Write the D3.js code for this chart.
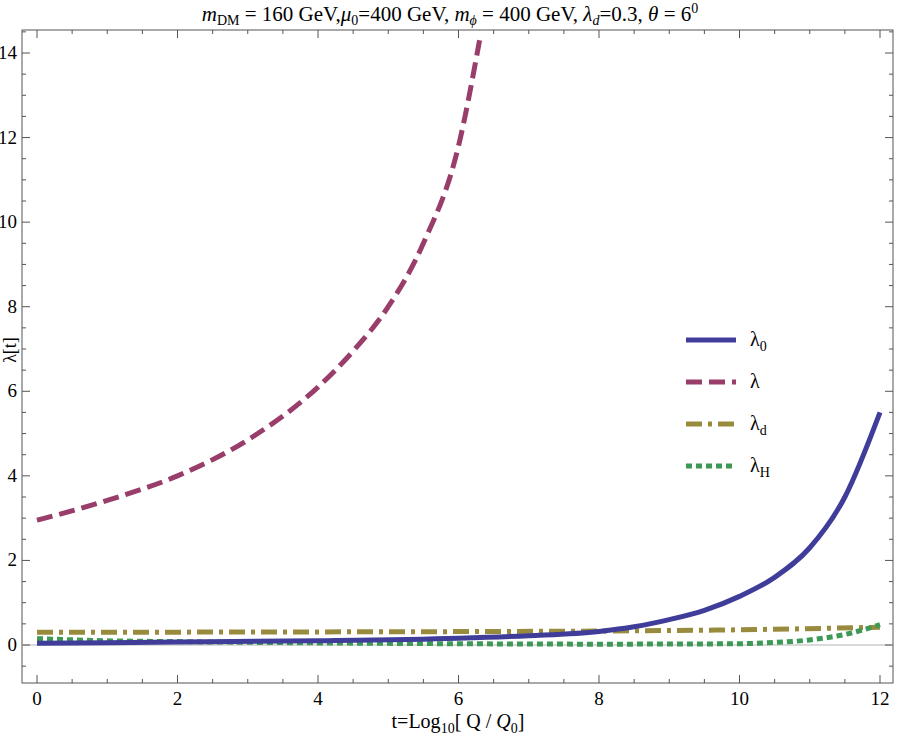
<!DOCTYPE html>
<html>
<head>
<meta charset="utf-8">
<script src="https://cdn.jsdelivr.net/npm/d3@7"></script>
<style>
    body { margin: 0; background: #fff; }
    svg text { font-family: "Liberation Serif", "DejaVu Serif", serif; }
</style>
</head>
<body>
<script>
// values
var tVals    = [0, 1, 2, 3, 4, 4.5, 5, 5.5, 6, 6.3];
var lamVals  = [2.95, 3.42, 4.0, 4.85, 6.1, 6.95, 8.0, 9.5, 11.8, 14.3];

var t0Vals   = [0, 2, 4, 6, 7, 8, 8.5, 9, 9.5, 10, 10.5, 11, 11.5, 12];
var lam0Vals = [0.04, 0.07, 0.1, 0.16, 0.22, 0.32, 0.43, 0.6, 0.82, 1.15, 1.6, 2.3, 3.5, 5.5];

var tdVals   = [0, 4, 8, 10, 12];
var lamdVals = [0.3, 0.31, 0.33, 0.36, 0.42];

var tHVals   = [0, 1, 2, 4, 6, 8, 10, 10.5, 11, 11.5, 12];
var lamHVals = [0.15, 0.1, 0.08, 0.05, 0.03, 0.02, 0.03, 0.06, 0.12, 0.25, 0.48];

var yTicks = [0, 2, 4, 6, 8, 10, 12, 14];
var xTicks = [0, 2, 4, 6, 8, 10, 12];

var legendNames = ["0", "", "d", "H"];
var colors = ["#3f3d99", "#993d6b", "#998b3d", "#3d9955"];
var dashes = [null, "16,7", "16,6,4,6", "6,4"];

var W = 899, H = 742;
var frame = {left: 22, right: 893, top: 30, bottom: 683};
var serif = "Liberation Serif, DejaVu Serif, serif";

var x = d3.scaleLinear().domain([0, 12]).range([37, 880]);
var y = d3.scaleLinear().domain([0, 14]).range([645, 53]);

var svg = d3.select("body").append("svg")
    .attr("width", W).attr("height", H)
    .attr("font-family", serif);

// frame
svg.append("rect")
    .attr("x", frame.left).attr("y", frame.top)
    .attr("width", frame.right - frame.left)
    .attr("height", frame.bottom - frame.top)
    .attr("fill", "none").attr("stroke", "#555").attr("stroke-width", 1);

// zero line
svg.append("line")
    .attr("x1", frame.left).attr("x2", frame.right)
    .attr("y1", y(0)).attr("y2", y(0))
    .attr("stroke", "#ccc").attr("stroke-width", 1.5);

// ticks on all four sides
var xMinor = d3.range(-0.5, 12.51, 0.5);
var yMinor = d3.range(-0.5, 14.6, 0.5);
var tk = svg.append("g").attr("stroke", "#555");
xMinor.forEach(function(v) {
    if (x(v) <= frame.left || x(v) >= frame.right) return;
    var len = (v % 2 === 0) ? 8 : 4;
    tk.append("line").attr("x1", x(v)).attr("x2", x(v))
        .attr("y1", frame.bottom).attr("y2", frame.bottom - len);
    tk.append("line").attr("x1", x(v)).attr("x2", x(v))
        .attr("y1", frame.top).attr("y2", frame.top + len);
});
yMinor.forEach(function(v) {
    if (y(v) <= frame.top || y(v) >= frame.bottom) return;
    var len = (v % 2 === 0) ? 8 : 4;
    tk.append("line").attr("y1", y(v)).attr("y2", y(v))
        .attr("x1", frame.left).attr("x2", frame.left + len);
    tk.append("line").attr("y1", y(v)).attr("y2", y(v))
        .attr("x1", frame.right).attr("x2", frame.right - len);
});

// tick labels
svg.selectAll(".xl").data(xTicks).enter().append("text")
    .attr("x", function(d) { return x(d); }).attr("y", 705)
    .attr("text-anchor", "middle").attr("font-size", 19).text(function(d) { return d; });
svg.selectAll(".yl").data(yTicks).enter().append("text")
    .attr("x", 17).attr("y", function(d) { return y(d) + 6; })
    .attr("text-anchor", "end").attr("font-size", 19).text(function(d) { return d; });

// curves
svg.append("clipPath").attr("id", "c").append("rect")
    .attr("x", frame.left).attr("y", frame.top)
    .attr("width", frame.right - frame.left).attr("height", frame.bottom - frame.top);

function draw(ts, vs, i) {
    var line = d3.line().curve(d3.curveMonotoneX)
        .x(function(d) { return x(d[0]); })
        .y(function(d) { return y(d[1]); });
    svg.append("path")
        .datum(d3.zip(ts, vs))
        .attr("d", line)
        .attr("clip-path", "url(#c)")
        .attr("fill", "none")
        .attr("stroke", colors[i])
        .attr("stroke-width", 5)
        .attr("stroke-dasharray", dashes[i]);
}
draw(tdVals, lamdVals, 2);
draw(tHVals, lamHVals, 3);
draw(t0Vals, lam0Vals, 0);
draw(tVals, lamVals, 1);

// legend
legendNames.forEach(function(n, i) {
    var ly = 340 + i * 42;
    svg.append("line")
        .attr("x1", 686).attr("x2", 736).attr("y1", ly).attr("y2", ly)
        .attr("stroke", colors[i]).attr("stroke-width", 5)
        .attr("stroke-dasharray", dashes[i]);
    var t = svg.append("text").attr("x", 750).attr("y", ly + 6)
        .attr("font-size", 20).text("λ");
    if (n) t.append("tspan").attr("font-size", 14).attr("dy", 5).text(n);
});

// axis titles
var ttl = svg.append("text").attr("x", 450).attr("y", 21)
    .attr("text-anchor", "middle").attr("font-size", 21);
ttl.append("tspan").attr("font-style", "italic").text("m");
ttl.append("tspan").attr("font-size", 14).attr("dy", 4).text("DM");
ttl.append("tspan").attr("dy", -4).text(" = 160 GeV,");
ttl.append("tspan").attr("font-style", "italic").text("μ");
ttl.append("tspan").attr("font-size", 14).attr("dy", 4).text("0");
ttl.append("tspan").attr("dy", -4).text("=400 GeV, ");
ttl.append("tspan").attr("font-style", "italic").text("m");
ttl.append("tspan").attr("font-style", "italic").attr("font-size", 14).attr("dy", 4).text("ϕ");
ttl.append("tspan").attr("dy", -4).text(" = 400 GeV, ");
ttl.append("tspan").attr("font-style", "italic").text("λ");
ttl.append("tspan").attr("font-style", "italic").attr("font-size", 14).attr("dy", 4).text("d");
ttl.append("tspan").attr("dy", -4).text("=0.3, ");
ttl.append("tspan").attr("font-style", "italic").text("θ");
ttl.append("tspan").text(" = 6");
ttl.append("tspan").attr("font-size", 14).attr("dy", -8).text("0");

var xt = svg.append("text").attr("x", 458).attr("y", 728)
    .attr("text-anchor", "middle").attr("font-size", 20);
xt.append("tspan").text("t=Log");
xt.append("tspan").attr("font-size", 14).attr("dy", 5).text("10");
xt.append("tspan").attr("dy", -5).text("[ Q / ");
xt.append("tspan").attr("font-style", "italic").text("Q");
xt.append("tspan").attr("font-size", 14).attr("dy", 5).text("0");
xt.append("tspan").attr("dy", -5).text("]");

svg.append("text").attr("transform", "translate(16,350) rotate(-90)")
    .attr("text-anchor", "middle").attr("font-size", 18).text("λ[t]");
</script>
</body>
</html>
